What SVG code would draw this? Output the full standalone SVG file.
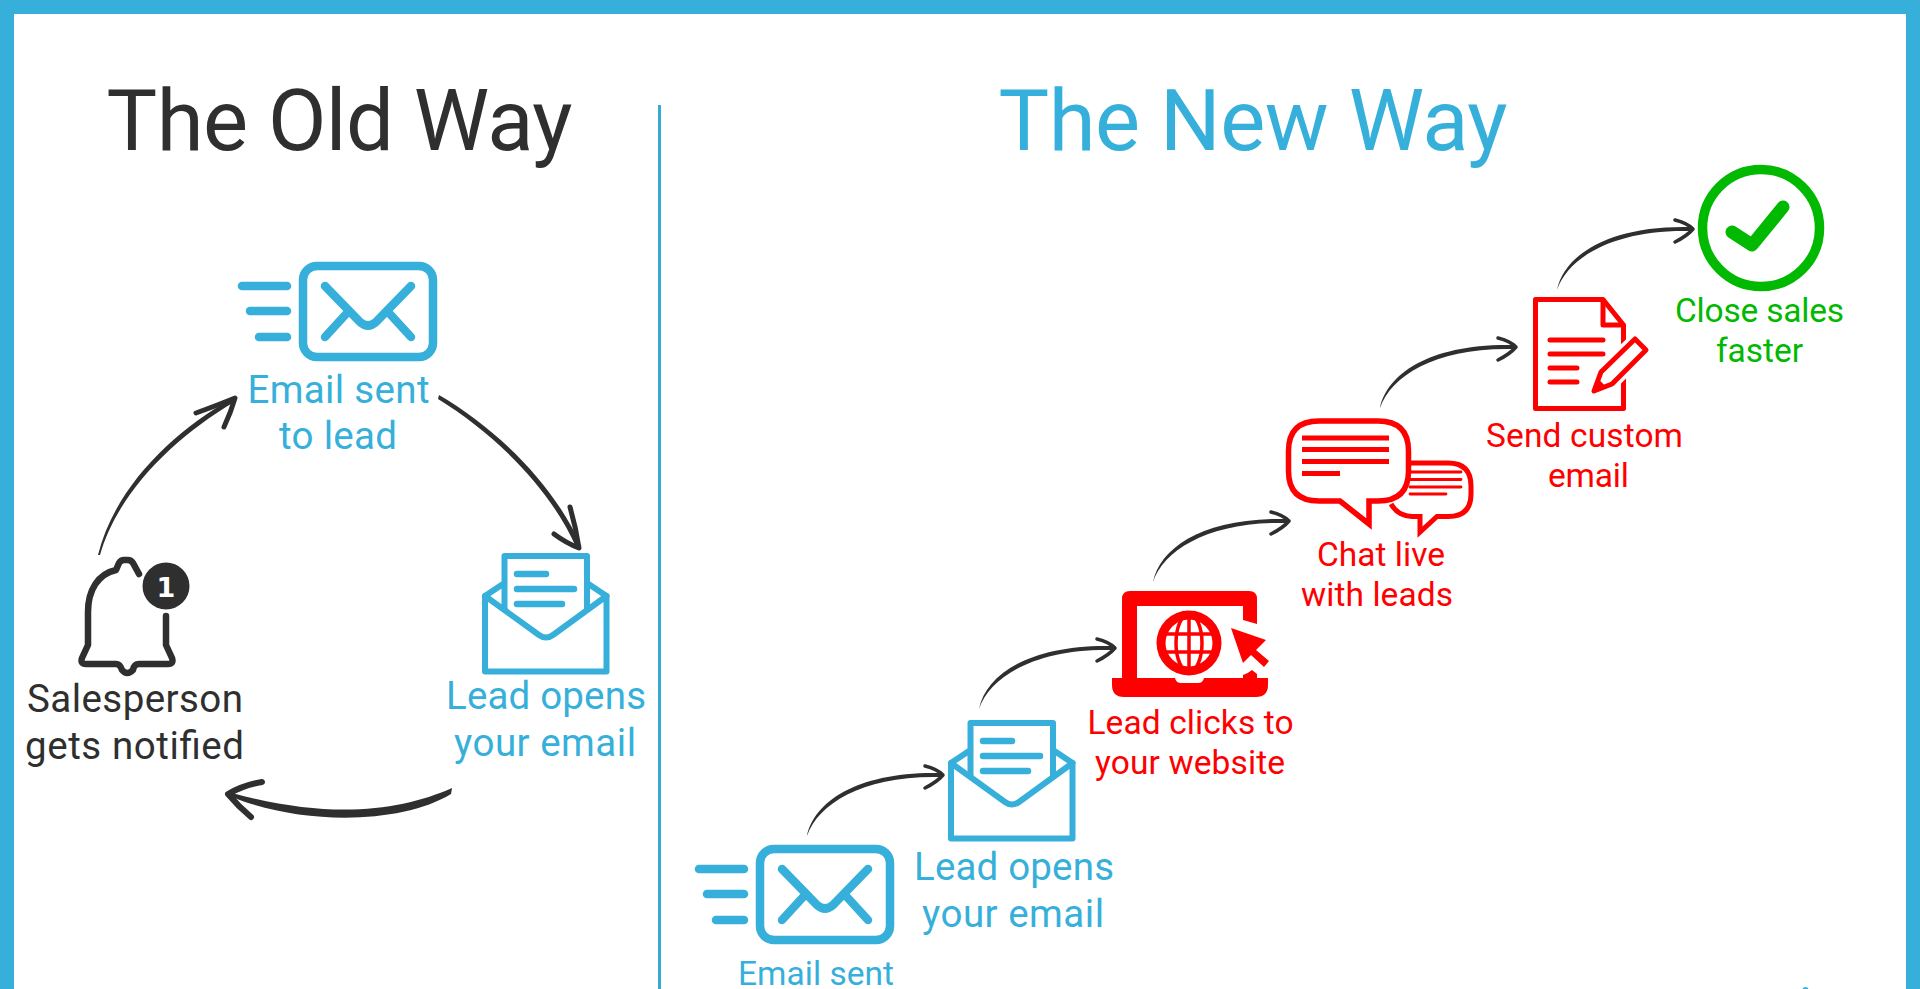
<svg xmlns="http://www.w3.org/2000/svg" xmlns:xlink="http://www.w3.org/1999/xlink" width="1920" height="989" viewBox="0 0 1920 989">
<style>
text{font-family:Roboto,"Liberation Sans",sans-serif;text-anchor:middle}
.title{font-size:85px}
.big{font-size:38.500px}
.small{font-size:33.500px}
.blue{fill:#36b0da}.dark{fill:#2f2f2f}.red{fill:#f00}.green{fill:#00b900}
.bl{fill:none;stroke:#36b0da;stroke-linecap:round;stroke-linejoin:round}
.rd{fill:none;stroke:#f00;stroke-linecap:round;stroke-linejoin:round}
.head{fill:none;stroke:#2f2f2f;stroke-linecap:round;stroke-linejoin:round}
.shaft{fill:#2f2f2f}
</style>
<defs>
<g id="email-icon">
<rect class="bl" x="303" y="266" width="130" height="91" rx="14" stroke-width="8.500"/>
<path class="bl" stroke-width="8.500" d="M242,286H287M250,311H287M259,337H287"/>
<path class="bl" stroke-width="8.500" d="M325,286L360,322Q368,329 376,322L411,286M325,337L347,313M411,337L389,313"/>
</g>
<g id="open-envelope-icon">
<path class="bl" stroke-width="6" d="M485,596L504.500,583M606.500,596L587,583M504.500,609V556H587V609"/>
<path class="bl" stroke-width="6" d="M485,596V671.500H606.500V596L553,635Q546,640 539,635L485,596Z"/>
<path class="bl" stroke-width="6.500" d="M517,574H546M517,589H574M517,604H562"/>
</g>
<g id="step-arrow">
<path class="shaft" d="M0,0C7,-35 52,-65 134,-63L134,-59C58,-61 11,-33 0,0Z"/>
<path class="head" stroke-width="3.500" d="M118,-70Q130,-67 136,-61Q130,-54 118,-48"/>
</g>
</defs>
<rect width="1920" height="989" fill="#fff"/>
<g id="frame">
<rect width="1920" height="14" fill="#36b0da"/>
<rect width="14" height="989" fill="#36b0da"/>
<rect x="1906" width="14" height="989" fill="#36b0da"/>
<rect x="658" y="105" width="3" height="884" fill="#3aa9d1"/>
<circle cx="1805.500" cy="990" r="3" fill="#36b0da"/>
</g>
<g id="titles">
<text id="title-old" class="title dark" x="339.500" y="149.500" textLength="466">The Old Way</text>
<text id="title-new" class="title blue" x="1253" y="149.500" textLength="509">The New Way</text>
</g>
<g id="connectors">
<path class="shaft" d="M98,555C114,490 170,433 233,398L234,402C174,438 118,492 100,555Z"/>
<path class="head" stroke-width="5" d="M196,413Q218,405 235,398Q231,412 224,427"/>
<path class="shaft" d="M439,395C492,426 552,480 581,546L576,547C548,484 490,431 438,399Z"/>
<path class="head" stroke-width="5" d="M570,507Q576,528 579,548Q566,543 554,534"/>
<path class="shaft" d="M452,788C400,811 330,820 232,793L232,797C300,825 400,825 451,794Z"/>
<path class="head" stroke-width="6" d="M262,782Q244,785 228,794Q238,806 251,817"/>
<use href="#step-arrow" transform="translate(807,836)"/>
<use href="#step-arrow" transform="translate(979,709)"/>
<use href="#step-arrow" transform="translate(1153,582)"/>
<use href="#step-arrow" transform="translate(1380,408)"/>
<use href="#step-arrow" transform="translate(1557,290)"/>
</g>
<g id="old-email">
<use href="#email-icon"/>
<text class="big blue" x="338.500" y="403" textLength="182">Email sent</text>
<text class="big blue" x="338" y="449" textLength="118">to lead</text>
</g>
<g id="old-open">
<use href="#open-envelope-icon"/>
<text class="big blue" x="546" y="709" textLength="200">Lead opens</text>
<text class="big blue" x="545" y="756" textLength="182">your email</text>
</g>
<g id="old-bell">
<path fill="none" stroke="#2f2f2f" stroke-width="6.500" stroke-linecap="round" stroke-linejoin="round" d="M139,574L133,563Q131,560 128,560H124Q121,560 119,563L116,570C98,574 88,590 88,612V645L82,658Q80,664 86,664H116Q120,664 122,670Q127,676 133,670Q134,664 139,664H168Q174,664 172,658L166,645V616"/>
<circle cx="166" cy="586" r="23.500" fill="#2f2f2f"/>
<text x="166" y="596.500" font-size="27" font-weight="700" fill="#fff" style="font-family:'DejaVu Sans',sans-serif">1</text>
<text class="big dark" x="135" y="712" textLength="216">Salesperson</text>
<text class="big dark" x="134.500" y="759" textLength="219">gets notified</text>
</g>
<g id="new-email">
<use href="#email-icon" transform="translate(457,583)"/>
<text class="small blue" x="816" y="985" textLength="156">Email sent</text>
</g>
<g id="new-open">
<use href="#open-envelope-icon" transform="translate(466,167)"/>
<text class="big blue" x="1014" y="880" textLength="200">Lead opens</text>
<text class="big blue" x="1013" y="927" textLength="182">your email</text>
</g>
<g id="new-website">
<path fill="#f00" d="M1122,678V599Q1122,591 1130,591H1249Q1257,591 1257,599V624L1243,620V606H1137V678Z"/>
<path fill="#f00" d="M1112,678H1175Q1176,683 1181,683H1198Q1203,683 1204,678H1243V675Q1247,674 1252,670L1257,674V678H1268V685Q1268,697 1256,697H1124Q1112,697 1112,685Z"/>
<circle cx="1189" cy="643" r="32.500" fill="#f00"/>
<circle cx="1189" cy="643" r="23.500" fill="#fff"/>
<path fill="none" stroke="#f00" stroke-width="3.500" d="M1189,613V673M1161,634H1217M1161,652H1217"/>
<ellipse cx="1189" cy="643" rx="13" ry="29" fill="none" stroke="#f00" stroke-width="3.500"/>
<path fill="#f00" d="M1231,628L1266,640L1256,650L1269,661L1264,667L1251,655L1243,663Z"/>
<text class="small red" x="1190.500" y="734" textLength="206">Lead clicks to</text>
<text class="small red" x="1190" y="774" textLength="190">your website</text>
</g>
<g id="new-chat">
<path fill="none" stroke="#f00" stroke-width="5" stroke-linejoin="miter" d="M1411,463H1448Q1471,463 1471,486V494Q1471,516.500 1448,516.500H1437L1420,532V516.500H1412Q1398,516 1391,504"/>
<path class="rd" stroke-width="2.800" d="M1410,472H1461M1410,479.500H1461M1410,487H1461M1410,494H1446"/>
<path fill="#fff" stroke="#f00" stroke-width="5.500" stroke-linejoin="miter" d="M1319,421H1378Q1408.500,421 1408.500,451V471Q1408.500,501 1378,501H1369V524L1340,501H1319Q1288.500,501 1288.500,471V451Q1288.500,421 1319,421Z"/>
<path fill="none" stroke="#f00" stroke-width="5" d="M1302,438H1389M1302,449.500H1389M1302,461.500H1389M1302,473.500H1340"/>
<text class="small red" x="1381" y="566" textLength="128">Chat live</text>
<text class="small red" x="1377" y="606" textLength="152">with leads</text>
</g>
<g id="new-document">
<path fill="#fff" stroke="#f00" stroke-width="5" stroke-linejoin="round" d="M1535.500,299.500H1603L1623.500,325V408.500H1535.500Z"/>
<path class="rd" stroke-width="5" d="M1603,300V325H1623"/>
<path class="rd" stroke-width="5" d="M1550,340H1603M1550,354H1603M1550,368H1577M1550,382H1577"/>
<path fill="none" stroke="#fff" stroke-width="12" stroke-linejoin="round" d="M1594,391L1601,372L1635,339L1646,350L1612,384Z"/>
<path fill="#fff" stroke="#f00" stroke-width="5" stroke-linejoin="round" d="M1594,391L1601,372L1635,339L1646,350L1612,384Z"/>
<path fill="#f00" stroke="#f00" stroke-width="2" d="M1594,391L1598,380L1605,387Z"/>
<text class="small red" x="1584.500" y="447" textLength="197">Send custom</text>
<text class="small red" x="1588.500" y="487" textLength="81">email</text>
</g>
<g id="new-close">
<circle cx="1761" cy="228" r="58.500" fill="#fff" stroke="#00b900" stroke-width="9.500"/>
<path fill="none" stroke="#00b900" stroke-width="13" stroke-linecap="round" stroke-linejoin="round" d="M1732,232L1752,245L1783,207"/>
<text class="small green" x="1759.500" y="322" textLength="169">Close sales</text>
<text class="small green" x="1759.500" y="362" textLength="87">faster</text>
</g>
</svg>
